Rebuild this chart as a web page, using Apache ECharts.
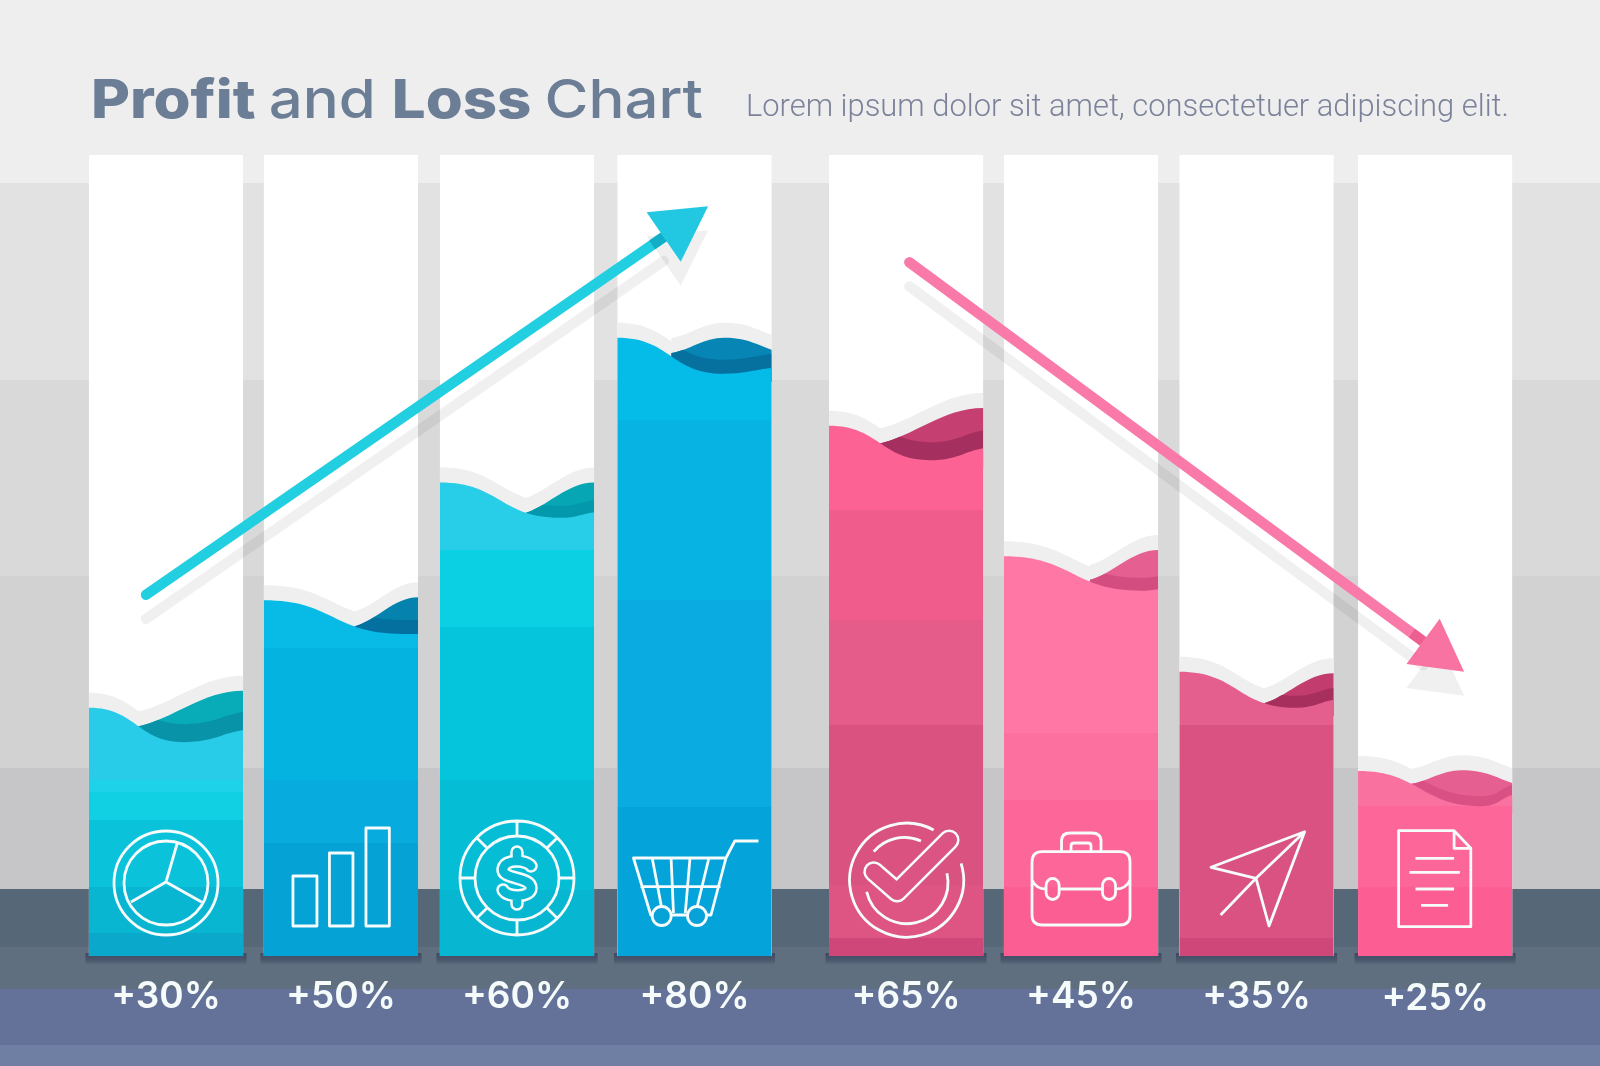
<!DOCTYPE html>
<html>
<head>
<meta charset="utf-8">
<style>html,body{margin:0;padding:0;background:#eeeeef}#c{width:1600px;height:1066px}</style>
<script src="https://cdn.jsdelivr.net/npm/echarts@6/dist/echarts.min.js"></script>
</head>
<body>
<div id="c"></div>
<script>
// ---------- data ----------
const percentLabels = ['+30%','+50%','+60%','+80%','+65%','+45%','+35%','+25%'];
// column slot on the x axis (the columns are grouped, so slots are not exactly whole numbers)
const columnSlot = [0, 0.965, 1.936, 2.915, 4.082, 5.047, 6.015, 7];
// fill level of each column on a 0-100 scale: wave start, dip where the back wave appears,
// trough, right end of the front wave, crest of the back wave, right end of the back wave
const fillLevel   = [31.0, 44.4, 59.1, 77.2, 66.2, 49.9, 35.5, 23.1];
const dipLevel    = [28.7, 41.3, 55.3, 75.4, 64.0, 47.1, 31.6, 21.6];
const troughLevel = [26.7, 40.2, 54.7, 72.7, 61.9, 45.6, 31.0, 18.7];
const endLevel    = [28.2, 40.2, 55.4, 73.4, 63.4, 45.8, 32.0, 20.1];
const crestLevel  = [33.1, 44.8, 59.1, 77.2, 68.4, 50.7, 35.3, 23.2];
const crestEnd    = [33.1, 44.8, 59.1, 75.7, 68.4, 50.7, 35.3, 21.6];
// trend arrows: start slot, start level, tip slot, tip level
const profitTrend = [-0.11, 45.1, 2.99, 93.6];
const lossTrend   = [4.10, 86.6, 7.16, 35.5];

// ---------- layout and style ----------
const backgroundBands = [
  [0,183,'#eeeeef'],[183,380,'#e2e2e3'],[380,576,'#d9d9da'],[576,768,'#d2d2d3'],[768,889,'#c6c6c8'],
  [889,947,'#566778'],[947,989,'#5f6f7f'],[989,1045,'#64729a'],[1045,1066,'#6f7fa4']
];
const dipAt    = [.305,.59,.535,.35,.31,.558,.535,.34];
const troughAt = [.62,.90,.78,.69,.66,.89,.755,.805];
const crestAt  = [1,1,1,.69,1,1,1,.668];
const toneOffset = [18,14,12,14,18,13,12,10];
const frontBands = [
  [[155,'#28cbe8'],[780,'#1ed2e9'],[792,'#12d0e3'],[820,'#0ac3da'],[887,'#09b6d2'],[933,'#0aa9cb']],
  [[155,'#07bbe6'],[648,'#05b3e1'],[780,'#08abdd'],[843,'#05a2d6']],
  [[155,'#28cde8'],[550,'#0bd0e3'],[627,'#05c5dc'],[780,'#06bdd6'],[890,'#07b6d1']],
  [[155,'#05bbe8'],[420,'#07b3e2'],[600,'#0aabe0'],[807,'#04a3d9']],
  [[155,'#fc6394'],[510,'#f05c8c'],[620,'#e55c8a'],[725,'#da5380'],[885,'#de5583'],[938,'#cf4678']],
  [[155,'#fe77a5'],[733,'#fc70a0'],[800,'#fd6699'],[887,'#fb5e92']],
  [[155,'#e55f8e'],[725,'#da5282'],[938,'#cf4678']],
  [[155,'#f9719f'],[806,'#fc6699'],[887,'#fc5d92']]
];
const backColors = [
  ['#08abb8','#0893a8'],['#0582ad','#03709f'],['#07a6b5','#0398ab'],['#0786b5','#06709f'],
  ['#c53f70','#a53060'],['#e56090','#d44d80'],['#c23d6d','#a72f5e'],['#e56090','#d95085']
];
const dollarFill = '#07b8d2', checkFill = '#dc5484', cartFill = '#07a3d8';
const colSpan = 0.85;

function circ(x,y,r){return `M${x-r},${y}a${r},${r} 0 1,0 ${2*r},0a${r},${r} 0 1,0 ${-2*r},0Z`;}
function pill(x,y,w,h){const r=w/2;return `M${x-r},${y-h/2+r}a${r},${r} 0 0,1 ${w},0V${y+h/2-r}a${r},${r} 0 0,1 ${-w},0Z`;}
function coinTicks(){let d='';for(let k=0;k<8;k++){const a=k*Math.PI/4,c=Math.cos(a),s=Math.sin(a);
  d+=`M${42*c},${-78+42*s}L${57*c},${-78+57*s}`;}return d;}

const iconPaths = [
  [{d:circ(0,-73,52)+circ(0,-73,42)+'M0,-74L11,-112M0,-74L-35,-54M0,-74L35.6,-54'}],
  [{d:'M-48,-80H-24V-30H-48ZM-11.5,-103H12V-30H-11.5ZM25,-128H48.4V-30H25Z'}],
  [{d:circ(0,-78,57)+circ(0,-78,42)+coinTicks()},
   {d:'M14,-90C10,-96 -12,-98 -14,-87C-15,-76 14,-80 14,-68C14,-58 -10,-58 -14,-66M0,-104V-96M0,-60V-52',w:13.5,cap:'round'},
   {d:'M14,-90C10,-96 -12,-98 -14,-87C-15,-76 14,-80 14,-68C14,-58 -10,-58 -14,-66M0,-104V-96M0,-60V-52',w:8.5,cap:'round',color:dollarFill}],
  [{d:'M64,-115H40.3L31.5,-98H-61L-43.7,-41H16.5L31.5,-98M-54,-69.3H26M-42.3,-98L-33,-49M-23.4,-98L-21,-43M-4.5,-98L-9.2,-43M14.4,-98L2.6,-49'},
   {d:circ(-32.8,-40,9.5)+circ(2.5,-40,9.5),fill:cartFill}],
  [{d:'M27.6,-126A57,57 0 1,0 55,-92.7M14.9,-115A40,40 0 0,0 -32.3,-104.3M-39.4,-64.3A41,41 0 0,0 40.9,-82.7'},
   {d:'M-32.3,-84.3L-9,-64L43,-116',w:21,cap:'round'},
   {d:'M-32.3,-84.3L-9,-64L43,-116',w:16,cap:'round',color:checkFill}],
  [{d:'M-39,-104.3H39Q49,-104.3 49,-94V-41Q49,-31 39,-31H-39Q-49,-31 -49,-41V-94Q-49,-104.3 -39,-104.3Z'+
      'M-19.5,-104V-115Q-19.5,-123 -11,-123H11Q20,-123 20,-115V-104M-10,-104V-110Q-10,-113 -7,-113H7Q10,-113 10,-110V-104'+
      'M-49,-76Q-45,-67 -35,-67M-21.5,-67H21.5M35,-67Q45,-67 49,-76'+pill(-28.4,-67,13,21)+pill(28,-67,13,21)}],
  [{d:'M48.1,-124.3L-45.5,-88.7L-0.5,-77.7ZM-0.5,-77.7L12.5,-30L48.1,-124.3M-0.5,-77.7L-35.9,-41'}],
  [{d:'M-36.5,-125.3H19L35.7,-107.7V-29.3H-36.5ZM19,-125.3V-107.7H35.7M-19.6,-97.7H19M-25.6,-83.7H24.8M-19.6,-67H19M-14,-50.7H13'}]
];

function hardStops(bands, y0, y1){
  const stops=[];
  bands.forEach((b,k)=>{
    const a=(b[0]-y0)/(y1-y0), e=k+1<bands.length?(bands[k+1][0]-y0)/(y1-y0):1;
    stops.push({offset:Math.max(0,a),color:b[1]},{offset:e,color:b[1]});
  });
  return stops;
}

function renderColumn(params, api){
  const i=params.dataIndex, s=api.value(0);
  const w=api.size([colSpan,0])[0];
  const cx=api.coord([s,0])[0], x0=cx-w/2, x1=cx+w/2;
  const yOf=v=>api.coord([s,v])[1];
  const base=yOf(0), top=yOf(100);
  const L=yOf(fillLevel[i]), D=yOf(dipLevel[i]), T=yOf(troughLevel[i]), R=yOf(endLevel[i]),
        C=yOf(crestLevel[i]), CE=yOf(crestEnd[i]);
  const dx=x0+w*dipAt[i], tx=x0+w*troughAt[i], px=x0+w*crestAt[i];
  const frontTop=(o)=>{
    const m=(x0+tx)/2;
    return `M${x0},${L+o}C${m},${L+o} ${m},${T+o} ${tx},${T+o}`+
      `C${tx+(x1-tx)*.5},${T+o} ${x1-(x1-tx)*.35},${R+o+(T-R)*.25} ${x1},${R+o}`;
  };
  const frontPath=o=>frontTop(o)+`V${base}H${x0}Z`;
  const backPath=o=>{
    const dw=px-dx;
    let d=`M${dx},${D+o+1}C${dx+dw*.35},${D+o+1-(D-C)*.22} ${px-dw*.38},${C+o} ${px},${C+o}`;
    if(crestAt[i]<1) d+=`C${px+(x1-px)*.5},${C+o} ${x1-(x1-px)*.3},${CE+o-(CE-C)*.4} ${x1},${CE+o}`;
    return d+`V${T+o+8}H${dx}Z`;
  };
  const front=new echarts.graphic.LinearGradient(0,top,0,base,hardStops(frontBands[i],top,base),true);
  const glow=15;
  const icons=iconPaths[i].map(p=>({
    type:'path', shape:{pathData:p.d},
    style:{fill:p.fill||'none',stroke:p.color||'#f6fbfc',lineWidth:p.w||2.8,lineCap:p.cap||'butt',lineJoin:'round'}
  }));
  const shadowFade=new echarts.graphic.LinearGradient(0,base-2,0,base+9,[
    {offset:0,color:'rgba(44,54,84,0.62)'},{offset:.55,color:'rgba(44,54,84,0.42)'},{offset:1,color:'rgba(44,54,84,0)'}],true);
  return {type:'group',children:[
    {type:'rect',shape:{x:x0-3.5,y:base-3,width:w+7,height:12},style:{fill:shadowFade}},
    {type:'rect',shape:{x:x0,y:top,width:w,height:base-top},style:{fill:'#ffffff'}},
    {type:'path',shape:{pathData:frontPath(-glow)},style:{fill:'#efefef'}},
    {type:'path',shape:{pathData:backPath(-glow)},style:{fill:'#efefef'}},
    {type:'path',shape:{pathData:backPath(0)},style:{fill:backColors[i][0]}},
    {type:'path',shape:{pathData:frontPath(-toneOffset[i])},style:{fill:backColors[i][1]},
     clipPath:{type:'path',shape:{pathData:backPath(0)}}},
    {type:'path',shape:{pathData:frontPath(0)},style:{fill:front}},
    {type:'group',x:cx,y:base,children:icons},
    {type:'text',x:cx,y:base+(i===7?43:41),style:{text:percentLabels[i],fill:'#f5fbfb',font:'600 37px Inter',align:'center',verticalAlign:'middle'}}
  ]};
}

const arrowStyles=[
  {line:'#22cfe0',dark:'#12aec8',fill:'#22c8e2',head:54,halfWidth:30,shadow:24},
  {line:'#f97aa8',dark:'#ec5f90',fill:'#f873a2',head:51,halfWidth:28,shadow:24}
];
function renderArrow(params, api){
  const a=api.coord([api.value(0),api.value(1)]), b=api.coord([api.value(2),api.value(3)]);
  const style=arrowStyles[params.dataIndex];
  const ang=Math.atan2(b[1]-a[1],b[0]-a[0]), ux=Math.cos(ang), uy=Math.sin(ang);
  const len=style.head, hw=style.halfWidth;
  const bx=b[0]-ux*len, by=b[1]-uy*len;
  const poly=[[b[0],b[1]],[bx-uy*hw,by+ux*hw],[bx+uy*hw,by-ux*hw]];
  const shift=(pts,o)=>pts.map(p=>[p[0],p[1]+o]);
  const sh=style.shadow, sc='rgba(0,0,0,0.06)';
  return {type:'group',children:[
    {type:'line',shape:{x1:a[0],y1:a[1]+sh,x2:bx,y2:by+sh},style:{stroke:sc,lineWidth:10.5,lineCap:'round'}},
    {type:'polygon',shape:{points:shift(poly,sh)},style:{fill:sc}},
    {type:'line',shape:{x1:a[0],y1:a[1],x2:bx+ux*2,y2:by+uy*2},style:{stroke:style.line,lineWidth:10.5,lineCap:'round'}},
    {type:'line',shape:{x1:bx-ux*14,y1:by-uy*14,x2:bx,y2:by},style:{stroke:style.dark,lineWidth:10.5}},
    {type:'polygon',shape:{points:poly},style:{fill:style.fill}}
  ]};
}

const chart=echarts.init(document.getElementById('c'),null,{renderer:'canvas'});
chart.setOption({
  animation:false,
  backgroundColor:'#eeeeef',
  title:[
    {left:741,top:85,text:'Lorem ipsum dolor sit amet, consectetuer adipiscing elit.',
     textStyle:{fontFamily:'Roboto',fontWeight:300,fontSize:30.9,lineHeight:36,color:'#7b8299'}}
  ],
  graphic:backgroundBands.map(b=>({type:'rect',silent:true,z:-10,shape:{x:0,y:b[0],width:1600,height:b[1]-b[0]},style:{fill:b[2]}})).concat([
    {type:'text',silent:true,z:5,x:91,y:102,scaleX:1.109,style:{
      text:'{b|Profit }{r|and }{b|Loss }{r|Chart}',verticalAlign:'middle',
      rich:{
        b:{fontFamily:'Inter',fontWeight:800,fontSize:54,lineHeight:64,fill:'#6b7e95'},
        r:{fontFamily:'Inter',fontWeight:500,fontSize:54,lineHeight:64,fill:'#6b7e95'}}}}
  ]),
  grid:{left:75.35,top:155,width:1450.4,height:801},
  xAxis:{type:'value',min:-0.5,max:7.5,show:false},
  yAxis:{type:'value',min:0,max:100,show:false},
  series:[
    {type:'custom',z:2,clip:false,silent:true,renderItem:renderColumn,encode:{x:0,y:1},
     data:columnSlot.map((s,i)=>[s,fillLevel[i]])},
    {type:'custom',z:3,clip:false,silent:true,renderItem:renderArrow,encode:{x:[0,2],y:[1,3]},
     data:[profitTrend,lossTrend]}
  ]
});
</script>
</body>
</html>
